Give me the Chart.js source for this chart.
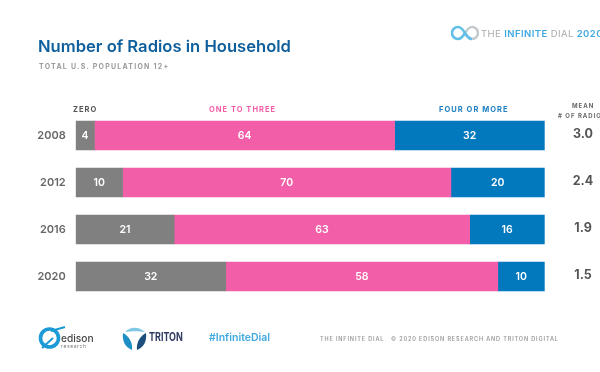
<!DOCTYPE html>
<html>
<head>
<meta charset="utf-8">
<title>Number of Radios in Household</title>
<script src="https://cdn.jsdelivr.net/npm/chart.js@4"></script>
<style>
  html, body { margin: 0; padding: 0; background: #fff; overflow: hidden; }
  #wrap { position: relative; width: 600px; height: 372px; overflow: hidden; font-family: Inter, "Open Sans", sans-serif; }
  #myChart { position: absolute; left: 0; top: 0; }
  .t { position: absolute; white-space: nowrap; line-height: 1; }
  svg { position: absolute; }
</style>
</head>
<body>
<div id="wrap">
  <canvas id="myChart" width="600" height="372"></canvas>

  <div class="t" style="left:38px;top:38px;font-size:16.6px;font-weight:600;color:#0f5f9c">Number of Radios in Household</div>
  <div class="t" style="left:39px;top:63px;font-size:7px;font-weight:700;letter-spacing:1.24px;color:#9a9a9a">TOTAL U.S. POPULATION 12+</div>

  <div class="t" style="left:73px;top:106px;font-size:7.5px;font-weight:700;letter-spacing:1px;color:#555">ZERO</div>
  <div class="t" style="left:209px;top:106px;font-size:7.5px;font-weight:700;letter-spacing:1.03px;color:#f25fa8">ONE TO THREE</div>
  <div class="t" style="left:439px;top:106px;font-size:7.5px;font-weight:700;letter-spacing:1.05px;color:#1f80c4">FOUR OR MORE</div>
  <div class="t" style="left:572px;top:103px;font-size:6px;font-weight:700;letter-spacing:1px;color:#666">MEAN</div>
  <div class="t" style="left:558px;top:113px;font-size:6px;font-weight:700;letter-spacing:1px;color:#666"># OF RADIOS</div>

  <!-- infinite dial logo -->
  <svg style="left:451px;top:25px" width="28" height="16" viewBox="0 0 28 16">
    <path d="M14 8C17 3 19 2 21 2a6 6 0 0 1 0 12c-2 0-4-1-7-6" fill="none" stroke="#c4cbd0" stroke-width="2.6"/>
    <path d="M14 8C11 3 9 2 7 2a6 6 0 0 0 0 12c2 0 4-1 7-6" fill="none" stroke="#62bfe8" stroke-width="2.6"/>
    <path d="M14 8C17 13 19 14 21 14" fill="none" stroke="#62bfe8" stroke-width="2.6"/>
  </svg>
  <div class="t" style="left:481px;top:29px;font-size:9.5px;font-weight:400;letter-spacing:.42px;color:#a9a9a9">THE <span style="color:#3fa9e0;font-weight:600">INFINITE</span> DIAL <span style="color:#3fa9e0;font-weight:600">2020</span></div>

  <!-- edison logo -->
  <svg style="left:38px;top:325px" width="30" height="26" viewBox="0 0 30 26">
    <circle cx="11.5" cy="13" r="9" fill="none" stroke="#1c9ad6" stroke-width="3.6"/>
    <path d="M4 23L15 13M13 6L27 2" fill="none" stroke="#1c9ad6" stroke-width="2"/>
  </svg>
  <div class="t" style="left:61px;top:333px;font-size:10.2px;font-weight:500;color:#444">edison</div>
  <div class="t" style="left:61px;top:344px;font-size:5px;letter-spacing:.6px;color:#777">research</div>

  <!-- triton logo -->
  <svg style="left:122px;top:326px" width="25" height="25" viewBox="0 0 25 25">
    <path d="M3 6C9 0 17 1 23 6C17 5 9 5 3 6Z" fill="#7fc7e4"/>
    <path d="M1 7C0 15 3 21 10 24C11 17 7 10 1 7Z" fill="#1d8fc4"/>
    <path d="M24 7C25 15 22 21 15 24C14 17 18 10 24 7Z" fill="#1c4f7d"/>
  </svg>
  <div class="t" style="left:149px;top:332px;font-size:11.5px;font-weight:700;color:#2f3a63;transform:scaleX(.78);transform-origin:left">TRITON</div>

  <div class="t" style="left:209px;top:333px;font-size:10.5px;font-weight:600;color:#3fa9e0">#InfiniteDial</div>
  <div class="t" style="left:320px;top:337px;font-size:5.5px;font-weight:600;letter-spacing:.87px;color:#9a9a9a">THE INFINITE DIAL &nbsp; © 2020 EDISON RESEARCH AND TRITON DIGITAL</div>
</div>

<script>
const years = ["2008", "2012", "2016", "2020"];
const zero = [4, 10, 21, 32];
const oneToThree = [64, 70, 63, 58];
const fourOrMore = [32, 20, 16, 10];
const meanRadios = ["3.0", "2.4", "1.9", "1.5"];

// white numbers inside the bars + the mean column on the right
const labelPlugin = {
  id: "labelPlugin",
  afterDatasetsDraw(chart) {
    const ctx = chart.ctx;
    ctx.save();
    ctx.textAlign = "center";
    ctx.textBaseline = "middle";
    ctx.fillStyle = "#fff";
    ctx.font = "600 10.5px Inter";
    chart.data.datasets.forEach((dataset, i) => {
      chart.getDatasetMeta(i).data.forEach((bar, j) => {
        const c = bar.getCenterPoint();
        ctx.fillText(dataset.data[j], c.x, c.y);
      });
    });
    ctx.fillStyle = "#555";
    ctx.font = "700 12.5px Inter";
    meanRadios.forEach((m, j) => {
      ctx.fillText(m, 583, chart.scales.y.getPixelForValue(j) - 1);
    });
    ctx.restore();
  },
};

var ctx = document.getElementById("myChart").getContext("2d");
var chart = new Chart(ctx, {
  type: "bar",
  data: {
    labels: years,
    datasets: [
      { label: "Zero", data: zero, backgroundColor: "#808080" },
      { label: "One to three", data: oneToThree, backgroundColor: "#f25fa8" },
      { label: "Four or more", data: fourOrMore, backgroundColor: "#0278bd" },
    ],
  },
  options: {
    indexAxis: "y",
    responsive: false,
    animation: false,
    barThickness: 29,
    layout: { padding: { top: 112, bottom: 72, right: 55.3, left: 0 } },
    plugins: { legend: { display: false }, tooltip: { enabled: false } },
    scales: {
      x: { stacked: true, min: 0, max: 100, display: false },
      y: {
        stacked: true,
        grid: { display: false, drawTicks: false },
        border: { display: false },
        afterFit(scale) {
          scale.width = 75.7;
        },
        ticks: {
          padding: 10,
          color: "#666",
          font: { family: "Inter", size: 11, weight: "600" },
        },
      },
    },
  },
  plugins: [labelPlugin],
});
</script>
</body>
</html>
